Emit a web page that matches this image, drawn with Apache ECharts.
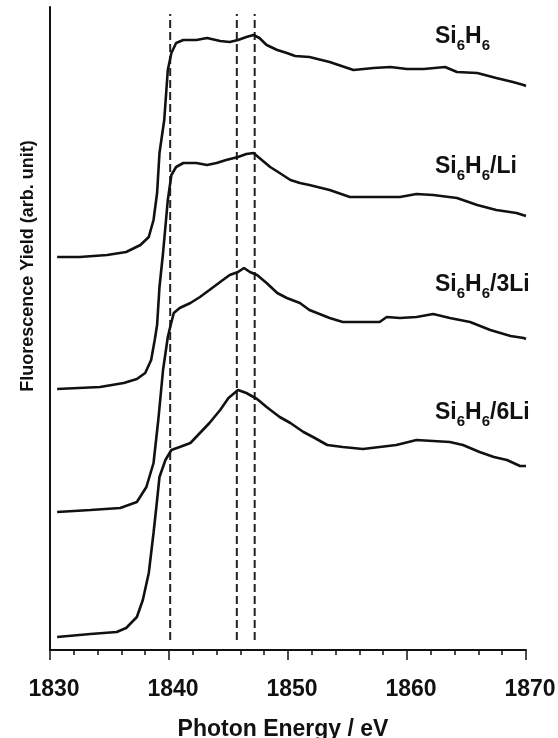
<!DOCTYPE html>
<html>
<head>
<meta charset="utf-8">
<script src="https://cdn.jsdelivr.net/npm/echarts@6/dist/echarts.min.js"></script>
<style>
html,body{margin:0;padding:0;background:#fff;}
#chart{width:558px;height:738px;}
</style>
</head>
<body>
<div id="chart"></div>
<script>
// ---- data (photon energy in eV, fluorescence yield in arb. units, offset stacked) ----
var s0E = [1830.6,1832.5,1834.8,1836.4,1837.6,1838.3,1838.7,1839.0,1839.2,1839.6,1839.9,1840.2,1840.6,1841.2,1842.3,1843.2,1844.3,1845.1,1845.8,1846.5,1847.1,1847.6,1848.2,1849.1,1849.9,1850.6,1851.8,1853.5,1855.5,1857.2,1858.6,1860.0,1861.4,1863.2,1864.2,1865.9,1867.5,1868.9,1869.8,1870.0];
var s0Y = [393,393,395,398,405,413,430,457,497,530,580,597,607,610,610,612,609,608,610,613,615,612,605,600,597,594,593,588,580,582,583,581,581,583,578,577,572,568,565,564];

var s1E = [1830.6,1834.2,1836.2,1837.3,1838.0,1838.5,1838.8,1839.0,1839.2,1839.5,1839.9,1840.2,1840.6,1841.2,1842.3,1843.2,1844.0,1844.8,1845.8,1846.5,1847.1,1847.6,1848.5,1849.3,1850.2,1851.0,1851.8,1853.5,1855.2,1857.2,1859.4,1860.8,1862.2,1864.2,1865.9,1867.5,1869.2,1870.0];
var s1Y = [261,263,267,271,277,290,310,325,363,397,450,475,483,487,487,485,487,490,493,496,497,492,483,477,470,467,465,460,453,453,453,456,455,452,445,440,437,434];

var s2E = [1830.6,1833.4,1835.9,1837.3,1838.1,1838.7,1839.1,1839.5,1839.9,1840.1,1840.4,1840.9,1841.8,1842.6,1843.4,1844.3,1845.1,1845.8,1846.3,1846.8,1847.4,1848.2,1849.1,1849.9,1851.0,1851.8,1853.5,1854.6,1857.7,1858.3,1859.4,1860.8,1862.2,1863.6,1865.3,1867.0,1868.7,1869.8,1870.0];
var s2Y = [138,140,142,148,163,187,230,280,313,323,337,342,347,353,360,368,375,378,382,378,375,367,357,352,347,340,332,328,328,333,332,333,336,332,328,320,314,312,311];

var s3E = [1830.6,1833.4,1835.6,1836.4,1837.3,1837.8,1838.3,1838.7,1839.0,1839.2,1839.7,1840.2,1840.9,1841.8,1842.6,1843.4,1844.3,1845.0,1845.8,1846.5,1847.4,1848.2,1849.3,1850.2,1851.3,1852.1,1853.3,1854.6,1856.3,1857.7,1859.1,1860.8,1862.2,1863.6,1864.7,1866.1,1867.3,1868.4,1869.5,1870.0];
var s3Y = [13,16,18,22,33,50,77,117,150,173,190,200,203,207,217,227,240,252,260,257,251,243,233,227,218,213,205,203,201,203,205,210,209,208,205,198,193,190,184,184];

var seriesNames = ['Si6H6','Si6H6/Li','Si6H6/3Li','Si6H6/6Li'];
var labelSuffix = ['', '/Li', '/3Li', '/6Li'];
var dashedE = [1840.1,1845.7,1847.2];
var xTicks = [1830,1840,1850,1860,1870];

function zip(e, y){ var out=[]; for(var i=0;i<e.length;i++){ out.push([e[i], y[i]]); } return out; }

var chart = echarts.init(document.getElementById('chart'), null, {renderer:'canvas'});

var curves = [[s0E,s0Y],[s1E,s1Y],[s2E,s2Y],[s3E,s3Y]];
var series = curves.map(function(c, i){
  return {
    name: seriesNames[i], type:'line', data: zip(c[0], c[1]),
    showSymbol:false, symbol:'none', smooth:false,
    lineStyle:{color:'#111', width:2.6}, silent:true, z:3
  };
});
dashedE.forEach(function(x, i){
  series.push({
    name:'dash'+i, type:'line', data:[[x,10],[x,636]], showSymbol:false, symbol:'none',
    lineStyle:{color:'#222', width:2, type:[8,4]}, silent:true, z:2
  });
});

var font = '"Liberation Sans", Arial, sans-serif';
var labelTops = [25,155,273,401];
var graphics = labelTops.map(function(y, i){
  return {
    type:'text', left:435, top:y,
    style:{
      rich:{
        m:{font:'bold 23px ' + font, fill:'#111', lineHeight:23, verticalAlign:'top'},
        s:{font:'bold 15px ' + font, fill:'#111', lineHeight:15, verticalAlign:'top', padding:[13,0,0,0]}
      },
      text:'{m|Si}{s|6}{m|H}{s|6}' + (labelSuffix[i] ? '{m|' + labelSuffix[i] + '}' : '')
    }
  };
});
graphics.push({
  type:'text', x:28, y:266, rotation:Math.PI/2,
  style:{text:'Fluorescence Yield (arb. unit)', font:'bold 18px ' + font, fill:'#111', align:'center', verticalAlign:'middle'}
});

chart.setOption({
  animation:false,
  backgroundColor:'#fff',
  grid:{left:50, right:32, top:7, bottom:88, containLabel:false, outerBoundsMode:'none'},
  xAxis:{
    type:'value', min:1830, max:1870, interval:10,
    name:'Photon Energy / eV', nameLocation:'middle', nameGap:68,
    nameTextStyle:{color:'#111', fontWeight:'bold', fontSize:23, fontFamily:font, padding:[0,10,0,0]},
    axisLine:{show:true, onZero:false, lineStyle:{color:'#111', width:2}},
    axisTick:{show:true, inside:false, length:10, lineStyle:{color:'#111', width:1.5}},
    minorTick:{show:true, splitNumber:5, length:5, lineStyle:{color:'#111', width:1.5}},
    splitLine:{show:false},
    axisLabel:{margin:28, color:'#111', fontWeight:'bold', fontSize:23, fontFamily:font, padding:[0,0,0,8],
      formatter:function(v){ return xTicks.indexOf(v) >= 0 ? String(v) : ''; }}
  },
  yAxis:{
    type:'value', min:0, max:643,
    axisLine:{show:true, onZero:false, lineStyle:{color:'#111', width:2}},
    axisTick:{show:false}, axisLabel:{show:false}, splitLine:{show:false}
  },
  graphic:graphics,
  series:series
});
</script>
</body>
</html>
